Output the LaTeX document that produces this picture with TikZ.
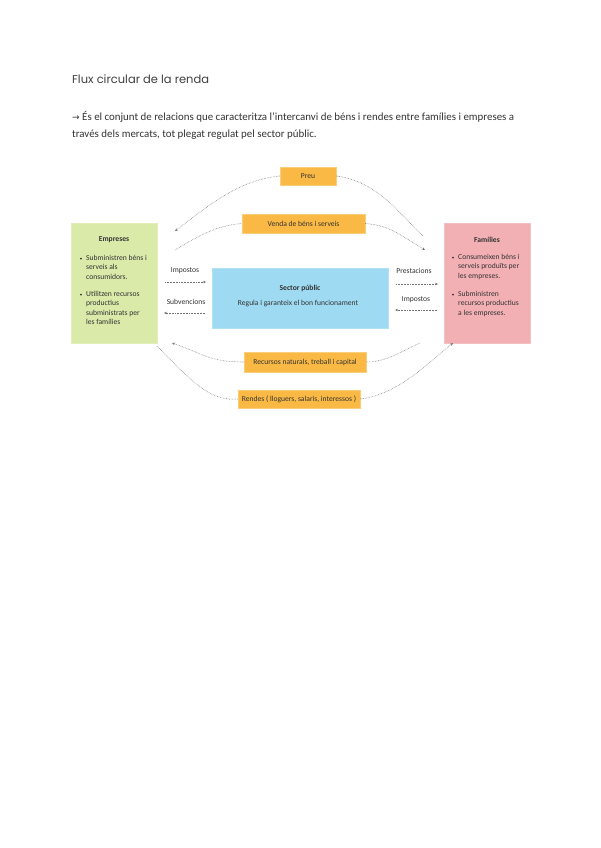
\documentclass[tikz,border=0pt]{standalone}
\usepackage{fontspec}
\setmainfont{Carlito}
\newfontfamily\titlefont{Poppins}
\newfontfamily\symfont{DejaVu Sans}
\usepackage{xcolor}
\usetikzlibrary{arrows.meta,positioning}

\definecolor{empgreen}{HTML}{D9EAA9}
\definecolor{fampink}{HTML}{F2B0B4}
\definecolor{secblue}{HTML}{9EDAF1}
\definecolor{floworange}{HTML}{F9B944}
\definecolor{txtgray}{HTML}{333333}

\tikzset{
  agentbox/.style={minimum width=86pt, minimum height=120pt, inner sep=0pt},
  flowbox/.style={fill=floworange, draw=floworange!70!white, inner sep=0pt,
    text=txtgray, font=\fontsize{7.6}{9}\selectfont},
  itemtext/.style={anchor=north west, align=left, inner sep=0pt, text=txtgray,
    font=\fontsize{7.6}{9.5}\selectfont},
  smalltext/.style={inner sep=0pt, text=txtgray, font=\fontsize{7.6}{9}\selectfont},
  flow/.style={densely dotted, draw=black!55, line width=0.55pt},
  flowarrow/.style={flow, -{Stealth[length=3pt,width=2.6pt]}}
}

\begin{document}
\begin{tikzpicture}[x=1pt,y=-1pt]
\useasboundingbox [fill=white] (0,0) rectangle (600,848);

% title and intro
\node [anchor=base west, inner sep=0pt, text=black!75, font=\titlefont\fontsize{11.5}{13}\selectfont] (title) at (72,84) {Flux circular de la renda};
\node [anchor=base west, inner sep=0pt, text=txtgray, font=\fontsize{10.9}{13}\selectfont] (intro1) at (72,121) {{\symfont\fontsize{9}{10}\selectfont →} És el conjunt de relacions que caracteritza l’intercanvi de béns i rendes entre famílies i empreses a};
\node [anchor=base west, inner sep=0pt, text=txtgray, font=\fontsize{10.9}{13}\selectfont] (intro2) at (72,137) {través dels mercats, tot plegat regulat pel sector públic.};

% agents
\node [agentbox, fill=empgreen, draw=empgreen!80!white] (empreses) at (114.5,283) {};
\node [smalltext, font=\bfseries\fontsize{7.6}{9}\selectfont] (emptitle) at (114,240) {Empreses};
\node [itemtext] (empa) at (86,255) {Subministren béns i\\serveis als\\consumidors.};
\node [itemtext] (empb) at (86,291) {Utilitzen recursos\\productius\\subministrats per\\les famílies};
\fill [txtgray] ([xshift=-5pt,yshift=-3.6pt]empa.north west) circle (1pt);
\fill [txtgray] ([xshift=-5pt,yshift=-3.6pt]empb.north west) circle (1pt);

\node [agentbox, fill=fampink, draw=fampink!80!white] (families) at (487,283) {};
\node [smalltext, font=\bfseries\fontsize{7.6}{9}\selectfont] (famtitle) at (487,240) {Famílies};
\node [itemtext] (fama) at (458,254) {Consumeixen béns i\\serveis produïts per\\les empreses.};
\node [itemtext] (famb) at (458,291) {Subministren\\recursos productius\\a les empreses.};
\fill [txtgray] ([xshift=-5pt,yshift=-3.6pt]fama.north west) circle (1pt);
\fill [txtgray] ([xshift=-5pt,yshift=-3.6pt]famb.north west) circle (1pt);

% sector public
\node [fill=secblue, draw=secblue!80!white, minimum width=176pt, minimum height=60pt, inner sep=0pt] (sector) at (300,298) {};
\node [smalltext, font=\bfseries\fontsize{7.6}{9}\selectfont] (sectitle) at (300,288) {Sector públic};
\node [smalltext] (secdesc) at (298,304) {Regula i garanteix el bon funcionament};

% flow boxes
\node [flowbox, minimum width=56pt, minimum height=18pt] (preu) at (308,176) {Preu};
\node [flowbox, minimum width=123pt, minimum height=19pt] (venda) at (303.5,223.5) {Venda de béns i serveis};
\node [flowbox, minimum width=122pt, minimum height=20pt] (recursos) at (305,362) {Recursos naturals, treball i capital};
\node [flowbox, minimum width=122pt, minimum height=18pt] (rendes) at (299,399) {Rendes ( lloguers, salaris, interessos )};

% free ends of the arcs
\coordinate (preuL) at (175,231);
\coordinate (preuR) at (423,236);
\coordinate (vendaL) at (175,250);
\coordinate (vendaR) at (425,250);
\coordinate (recR) at (420,343);
\coordinate (recL) at (172,343);
\coordinate (renL) at (157,346);
\coordinate (renR) at (453,343);

\draw [flowarrow] (preu.west) .. controls +(-42,4) and +(32,-24) .. (preuL);
\draw [flow] (preu.east) .. controls +(40,5) and +(-25,-24) .. (preuR);
\draw [flow] (vendaL) .. controls +(25,-15) and +(-25,2) .. (venda.west);
\draw [flowarrow] (venda.east) .. controls +(25,2) and +(-25,-15) .. (vendaR);
\draw [flow] (recR) .. controls +(-20,9) and +(20,0) .. (recursos.east);
\draw [flowarrow] (recursos.west) .. controls +(-35,0) and +(30,10) .. (recL);
\draw [flow] (renL) .. controls +(30,30) and +(-30,3) .. (rendes.west);
\draw [flowarrow] (rendes.east) .. controls +(35,-4) and +(-30,25) .. (renR);

% public sector flows
\node [smalltext] (tax1) at (185,271) {Impostos};
\node [smalltext] (subv) at (186,302) {Subvencions};
\node [smalltext] (prest) at (414,271) {Prestacions};
\node [smalltext] (tax2) at (416,300) {Impostos};

\coordinate (tax1a) at (165,282);
\coordinate (tax1b) at (206,282);
\coordinate (subva) at (205,313);
\coordinate (subvb) at (164,313);
\coordinate (presta) at (396,284);
\coordinate (prestb) at (438,284);
\coordinate (tax2a) at (437,310);
\coordinate (tax2b) at (395,310);

\draw [flowarrow] (tax1a) -- (tax1b);
\draw [flowarrow] (subva) -- (subvb);
\draw [flowarrow] (presta) -- (prestb);
\draw [flowarrow] (tax2a) -- (tax2b);

\end{tikzpicture}
\end{document}
